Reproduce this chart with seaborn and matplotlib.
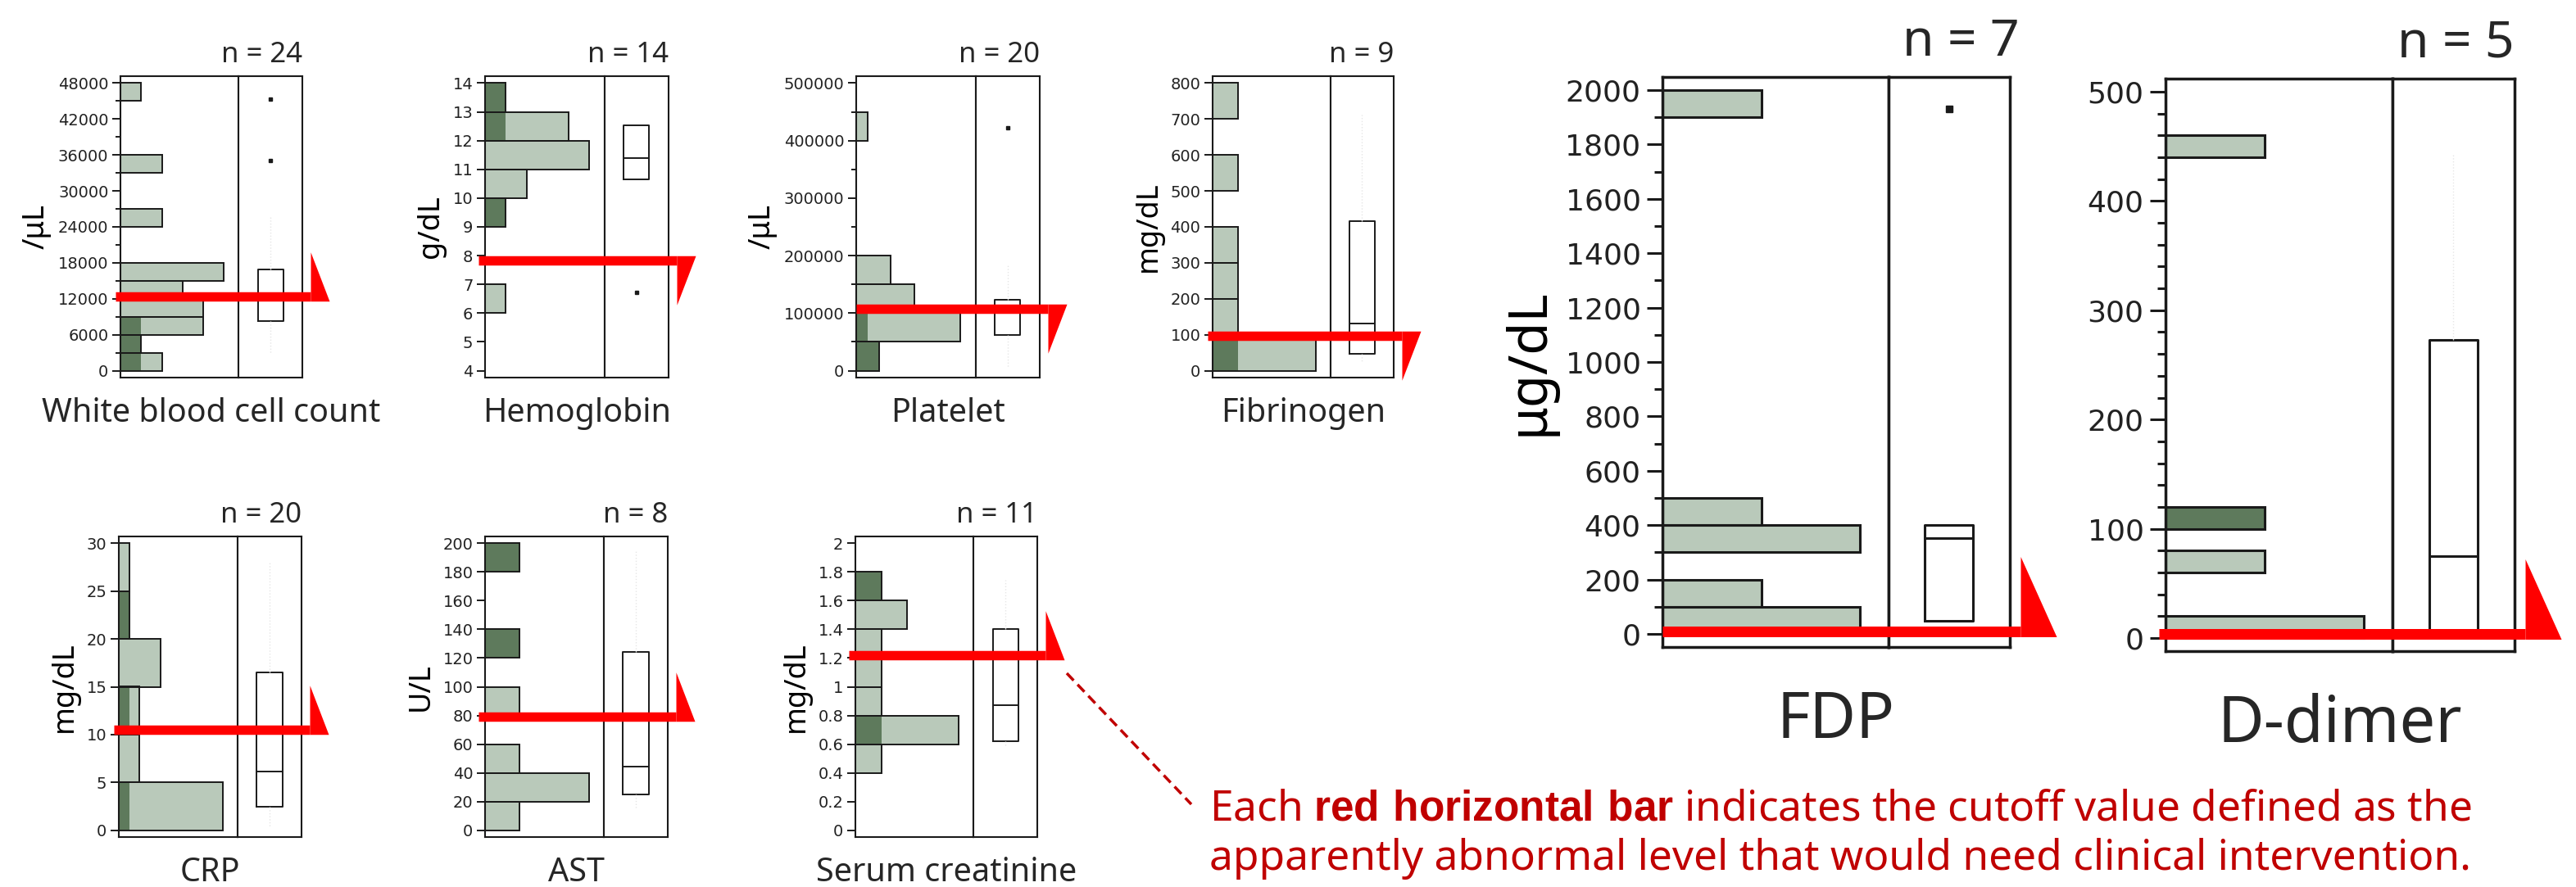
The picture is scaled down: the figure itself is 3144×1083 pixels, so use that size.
import numpy as np
import pandas as pd
import matplotlib
matplotlib.use("Agg")
import matplotlib.pyplot as plt
import matplotlib.transforms as mtransforms
from matplotlib.lines import Line2D
from matplotlib.ticker import MultipleLocator, NullLocator, FuncFormatter
import seaborn as sns

# ---- values ----
# bins: (first edge, last edge, width); counts per bin; dark = darker subgroup
# box: q1, median, q3; whisk: faint whisker ends; out: outliers
# axis: ymin tick, ymax tick, major step, minor step
wbc_bins = (0, 48000, 3000)
wbc_counts = [2, 1, 4, 4, 3, 5, 0, 0, 2, 0, 0, 2, 0, 0, 0, 1]
wbc_dark = [1, 1, 1, 0, 0, 0, 0, 0, 0, 0, 0, 0, 0, 0, 0, 0]
wbc_box = [8330, 12300, 16840]
wbc_whisk = [2750, 25850]
wbc_out = [35140, 45390]
wbc_axis = (0, 48000, 6000, 3000)

hb_bins = (4, 14, 1)
hb_counts = [0, 0, 1, 0, 0, 1, 2, 5, 4, 1]
hb_dark = [0, 0, 0, 0, 0, 1, 0, 0, 1, 1]
hb_box = [10.64, 11.38, 12.54]
hb_whisk = [10.64, 12.54]
hb_out = [6.71]
hb_axis = (4, 14, 1, None)

plat_bins = (0, 500000, 50000)
plat_counts = [2, 9, 5, 3, 0, 0, 0, 0, 1, 0]
plat_dark = [2, 1, 0, 0, 0, 0, 0, 0, 0, 0]
plat_box = [62700, 108000, 123000]
plat_whisk = [7000, 185000]
plat_out = [422000]
plat_axis = (0, 500000, 100000, 50000)

fib_bins = (0, 800, 100)
fib_counts = [4, 1, 1, 1, 0, 1, 0, 1]
fib_dark = [1, 0, 0, 0, 0, 0, 0, 0]
fib_box = [46, 131, 416]
fib_whisk = [25, 713]
fib_out = []
fib_axis = (0, 800, 100, None)

crp_bins = (0, 30, 5)
crp_counts = [10, 2, 2, 4, 1, 1]
crp_dark = [1, 0, 1, 0, 1, 0]
crp_box = [2.46, 6.1, 16.5]
crp_whisk = [0.3, 28]
crp_out = []
crp_axis = (0, 30, 5, None)

ast_bins = (0, 200, 20)
ast_counts = [1, 3, 1, 0, 1, 0, 1, 0, 0, 1]
ast_dark = [0, 0, 0, 0, 0, 0, 1, 0, 0, 1]
ast_box = [25, 44.3, 124.2]
ast_whisk = [16, 195]
ast_out = []
ast_axis = (0, 200, 20, None)

cre_bins = (0, 2, 0.2)
cre_counts = [0, 0, 1, 4, 1, 1, 1, 2, 1, 0]
cre_dark = [0, 0, 0, 1, 0, 0, 0, 0, 1, 0]
cre_box = [0.62, 0.87, 1.40]
cre_whisk = [0.59, 1.745]
cre_out = []
cre_axis = (0, 2, 0.2, None)

fdp_bins = (0, 2000, 100)
fdp_counts = [2, 1, 0, 2, 1, 0, 0, 0, 0, 0, 0, 0, 0, 0, 0, 0, 0, 0, 0, 1]
fdp_dark = [0] * 20
fdp_box = [48, 354, 400]
fdp_whisk = [48, 400]
fdp_out = [1930]
fdp_axis = (0, 2000, 200, 100)

dd_bins = (0, 500, 20)
dd_counts = [2, 0, 0, 1, 0, 1, 0, 0, 0, 0, 0, 0, 0, 0, 0, 0, 0, 0, 0, 0, 0, 0, 1, 0, 0]
dd_dark = [0, 0, 0, 0, 0, 1, 0, 0, 0, 0, 0, 0, 0, 0, 0, 0, 0, 0, 0, 0, 0, 0, 0, 0, 0]
dd_box = [4, 75, 273]
dd_whisk = [2, 443]
dd_out = []
dd_axis = (0, 500, 100, 20)

names = ["White blood cell count", "Hemoglobin", "Platelet", "Fibrinogen",
         "CRP", "AST", "Serum creatinine", "FDP", "D-dimer"]
units = ["/μL", "g/dL", "/μL", "mg/dL", "mg/dL", "U/L", "mg/dL", "μg/dL", ""]
n_cases = [24, 14, 20, 9, 20, 8, 11, 7, 5]
cutoffs = [12350, 7.83, 107000, 98, 10.5, 79.2, 1.22, 8, 4]
cut_dir = ["up", "down", "down", "down", "up", "up", "up", "up", "up"]

bins_all = [wbc_bins, hb_bins, plat_bins, fib_bins, crp_bins, ast_bins, cre_bins, fdp_bins, dd_bins]
counts_all = [wbc_counts, hb_counts, plat_counts, fib_counts, crp_counts, ast_counts, cre_counts, fdp_counts, dd_counts]
dark_all = [wbc_dark, hb_dark, plat_dark, fib_dark, crp_dark, ast_dark, cre_dark, fdp_dark, dd_dark]
box_all = [wbc_box, hb_box, plat_box, fib_box, crp_box, ast_box, cre_box, fdp_box, dd_box]
whisk_all = [wbc_whisk, hb_whisk, plat_whisk, fib_whisk, crp_whisk, ast_whisk, cre_whisk, fdp_whisk, dd_whisk]
out_all = [wbc_out, hb_out, plat_out, fib_out, crp_out, ast_out, cre_out, fdp_out, dd_out]
axis_all = [wbc_axis, hb_axis, plat_axis, fib_axis, crp_axis, ast_axis, cre_axis, fdp_axis, dd_axis]

# ---- layout (pixels: left, top, right, bottom) ----
W, H = 3144, 1083
geom = [(147, 93, 369, 461), (592, 93, 816, 461), (1045, 93, 1269, 461), (1480, 93, 1701, 461),
        (145, 655, 368, 1022), (592, 655, 815, 1022), (1044, 655, 1266, 1022),
        (2029, 94, 2453, 790), (2643, 96, 3069, 795)]
n_shift = [0, 0, 0, 0, 0, 0, 0, 12, 0]
red_left = [-6, -8, 0, -6, -6, -8, -8, 0, -8]

LIGHT = "#B9C9BA"
DARK = "#5E7A5C"
INK = "#1a1a1a"
RED = "#FF0000"
NOTE = "#C00000"
SPLIT = 0.65

sns.set_theme(style="white")
plt.rcParams["font.family"] = ["DejaVu Sans"]
plt.rcParams["mathtext.fontset"] = "custom"
plt.rcParams["mathtext.rm"] = "Noto Sans"
plt.rcParams["mathtext.bf"] = "Liberation Sans:bold"
LABEL_FONT = ["Noto Sans", "DejaVu Sans"]

fig = plt.figure(figsize=(W / 100, H / 100), dpi=100)


def px_rect(l, t, r, b):
    return [l / W, 1 - b / H, (r - l) / W, (b - t) / H]


def flag_marker(direction, t, fh, fw):
    # right-angled flag at the end of the cutoff bar, in pixel units
    if direction == "up":
        verts = [(0, -t / 2), (0, fh - t / 2), (fw, -t / 2), (0, -t / 2)]
    else:
        verts = [(0, t / 2), (fw, t / 2), (0, t / 2 - fh), (0, t / 2)]
    rescale = max(abs(v) for p in verts for v in p)
    return verts, 2 * rescale * 0.72


for i in range(9):
    big = i >= 7
    l, t, r, b = geom[i]
    w = r - l
    xm = l + SPLIT * w
    ax_h = fig.add_axes(px_rect(l, t, xm, b))
    ax_b = fig.add_axes(px_rect(xm, t, r, b), sharey=ax_h)

    lo, hi, step = bins_all[i]
    nb = len(counts_all[i])
    df = pd.DataFrame({"value": [lo + step * (k + 0.5) for k in range(nb)],
                       "count": counts_all[i],
                       "dark": dark_all[i]})
    elw = 2.2 if big else 1.4
    hist_kw = dict(data=df, y="value", binwidth=step, binrange=(lo, hi), ax=ax_h)

    sns.histplot(weights="count", color=LIGHT, alpha=1, edgecolor="none",
                 linewidth=0, **hist_kw)
    if df["dark"].sum() > 0:
        sns.histplot(weights="dark", color=DARK, alpha=1, edgecolor="none",
                     linewidth=0, **hist_kw)
    sns.histplot(weights="count", fill=False, color=INK, edgecolor=INK,
                 linewidth=elw, **hist_kw)
    ax_h.set_xlim(0, df["count"].max() / 0.875)

    q1, med, q3 = box_all[i]
    wl, wh = whisk_all[i]
    stats = [dict(q1=q1, med=med, q3=q3, whislo=wl, whishi=wh, fliers=out_all[i])]
    blw = 2.2 if big else 1.4
    ax_b.bxp(stats, positions=[0], widths=0.4, showcaps=False, manage_ticks=False,
             boxprops=dict(color=INK, linewidth=blw),
             medianprops=dict(color=INK, linewidth=blw),
             whiskerprops=dict(color="#e6e6e6", linewidth=1, linestyle=":"),
             flierprops=dict(marker="s", markersize=6 if big else 3.5,
                             markerfacecolor=INK, markeredgecolor=INK))
    ax_b.set_xlim(-0.5, 0.5)

    ylo, yhi, major, minor = axis_all[i]
    pad = 0.024 * (yhi - ylo)
    ax_h.set_ylim(ylo - pad, yhi + pad)
    ax_h.yaxis.set_major_locator(MultipleLocator(major))
    ax_h.yaxis.set_minor_locator(MultipleLocator(minor) if minor else NullLocator())
    ax_h.yaxis.set_major_formatter(FuncFormatter(lambda v, p: f"{v:g}"))

    ax_h.tick_params(axis="x", which="both", bottom=False, labelbottom=False)
    ax_h.tick_params(axis="y", which="both", left=True, direction="out", color=INK,
                     width=2.2 if big else 1.4)
    ax_h.tick_params(axis="y", which="major", length=14 if big else 7.5,
                     labelsize=26 if big else 14, pad=5 if big else 3, labelcolor="#222222")
    ax_h.tick_params(axis="y", which="minor", length=7 if big else 4.3)
    ax_b.tick_params(which="both", left=False, labelleft=False, bottom=False, labelbottom=False)
    ax_h.set_xlabel("")
    ax_h.set_ylabel(units[i], fontsize=47 if big else 26, family=LABEL_FONT,
                    labelpad=8 if big else 6, color="black")

    sw = 2.5 if big else 1.5
    for ax in (ax_h, ax_b):
        for s in ax.spines.values():
            s.set_visible(True)
            s.set_linewidth(sw)
            s.set_color(INK)

    # cutoff bar with flag, drawn over both halves
    tr = mtransforms.blended_transform_factory(ax_b.transAxes, ax_b.transData)
    f0 = (red_left[i] / w - SPLIT) / (1 - SPLIT)
    f1 = (1 + (13 if big else 10) / w - SPLIT) / (1 - SPLIT)
    thick = 13 if big else 11.5
    ax_b.plot([f0, f1], [cutoffs[i], cutoffs[i]], color=RED, lw=thick * 0.72,
              solid_capstyle="butt", transform=tr, clip_on=False, zorder=10)
    verts, ms = flag_marker(cut_dir[i], thick, 98 if big else 60, 44 if big else 23)
    ax_b.plot([f1], [cutoffs[i]], marker=verts, markersize=ms, color=RED,
              markeredgewidth=0, linestyle="none", transform=tr, clip_on=False, zorder=10)

    # n label above, test name below
    fig.text((r + n_shift[i]) / W, 1 - (t - (26 if big else 17)) / H, f"n = {n_cases[i]}",
             ha="right", va="baseline", fontsize=45 if big else 25, family=LABEL_FONT)
    fig.text((l + r) / 2 / W, 1 - (b + (51 if big else 24)) / H, names[i],
             ha="center", va="top", fontsize=56 if big else 28.5, family=LABEL_FONT)

# explanatory note
fig.add_artist(Line2D([1302 / W, 1454 / W], [1 - 822 / H, 1 - 982 / H],
                      transform=fig.transFigure, color=NOTE, lw=2.5,
                      linestyle=(0, (3.5, 2))))
fig.text(1476 / W, 1 - 1002 / H,
         r"Each $\mathbf{red\ horizontal\ bar}$ indicates the cutoff value defined as the",
         ha="left", va="baseline", fontsize=37, color=NOTE, family=LABEL_FONT)
fig.text(1476 / W, 1 - 1062 / H,
         "apparently abnormal level that would need clinical intervention.",
         ha="left", va="baseline", fontsize=37, color=NOTE, family=LABEL_FONT)

fig.savefig("out.png", dpi=100)
